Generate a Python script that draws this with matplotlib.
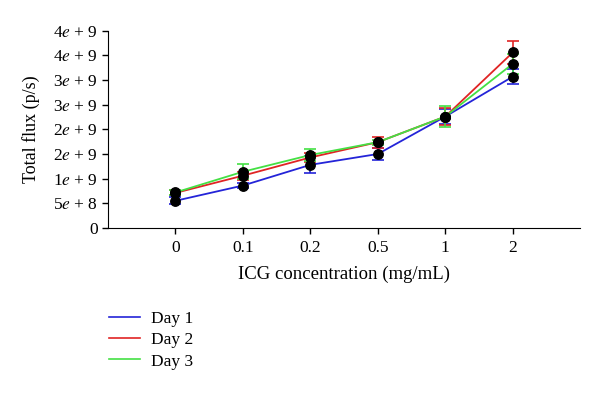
import matplotlib
matplotlib.use("Agg")
import matplotlib.pyplot as plt
from matplotlib.lines import Line2D

plt.rcParams['font.family'] = ['Liberation Serif', 'DejaVu Serif']
plt.rcParams['mathtext.fontset'] = 'stix'

categories = ['0', '0.1', '0.2', '0.5', '1', '2']
day1 = [0.55e9, 0.86e9, 1.28e9, 1.50e9, 2.26e9, 3.07e9]
day1_err = [0.07e9, 0.05e9, 0.17e9, 0.12e9, 0.15e9, 0.15e9]
day2 = [0.71e9, 1.06e9, 1.43e9, 1.74e9, 2.26e9, 3.56e9]
day2_err = [0.05e9, 0.08e9, 0.10e9, 0.11e9, 0.18e9, 0.24e9]
day3 = [0.72e9, 1.14e9, 1.48e9, 1.74e9, 2.26e9, 3.33e9]
day3_err = [0.05e9, 0.15e9, 0.12e9, 0.05e9, 0.22e9, 0.20e9]
series = [('Day 1', day1, day1_err, '#2424d8'),
          ('Day 2', day2, day2_err, '#e02424'),
          ('Day 3', day3, day3_err, '#44e044')]
yticks = [0, 5e8, 1e9, 1.5e9, 2e9, 2.5e9, 3e9, 3.5e9, 4e9]
ytick_labels = ['0', '5$e$ + 8', '1$e$ + 9', '2$e$ + 9', '2$e$ + 9',
                '3$e$ + 9', '3$e$ + 9', '4$e$ + 9', '4$e$ + 9']

fig = plt.figure(figsize=(6, 3.95), dpi=100)
ax = fig.add_axes([0.18, 0.423, 0.787, 0.499])
x = list(range(len(categories)))
handles = []
for name, vals, err, col in series:
    ax.errorbar(x, vals, yerr=err, color=col, lw=1.3, capsize=4, capthick=1.2,
                elinewidth=1.2, zorder=2)
    handles.append(Line2D([], [], color=col, lw=1.2, label=name))
for name, vals, err, col in series:
    ax.plot(x, vals, 'o', color='black', ms=6.8, zorder=3)

ax.set_xlim(-1, 6)
ax.set_ylim(0, 4e9)
ax.set_xticks(x)
ax.set_xticklabels(categories, fontsize=12.5)
ax.set_yticks(yticks)
ax.set_yticklabels(ytick_labels, fontsize=12.5)
ax.tick_params(direction='out', length=4, width=1)
ax.tick_params(axis='x', pad=5)
ax.spines['top'].set_visible(False)
ax.spines['right'].set_visible(False)
ax.set_xlabel('ICG concentration (mg/mL)', fontsize=13.5, labelpad=7)
ax.set_ylabel('Total flux (p/s)', fontsize=13, labelpad=9)

fig.legend(handles=handles, loc='upper left', bbox_to_anchor=(0.155, 0.253),
           frameon=False, fontsize=12.5, handlelength=1.8, handletextpad=0.65,
           labelspacing=0.3)

fig.savefig('out.png', dpi=100)
